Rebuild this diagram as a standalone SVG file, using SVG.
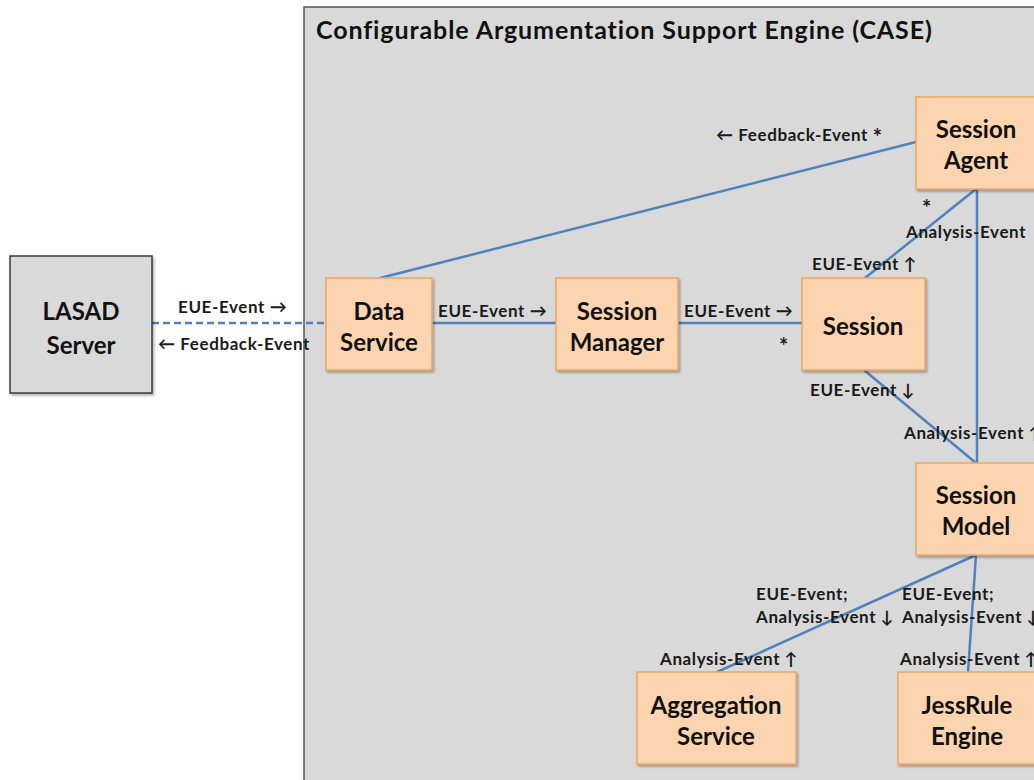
<svg xmlns="http://www.w3.org/2000/svg" width="1034" height="780" viewBox="0 0 1034 780">
<defs>
<filter id="sh" x="-10%" y="-10%" width="130%" height="130%">
<feDropShadow dx="1.5" dy="2" stdDeviation="1.2" flood-color="#000" flood-opacity="0.3"/>
</filter>
<style>
.node{fill:#fcd5b0;stroke:#f0a562;stroke-width:1.5;filter:url(#sh)}
.gray{fill:#d9d9d9;stroke:#3a3a3a;stroke-width:1.5;filter:url(#sh)}
.nt{font-family:Lato,"Liberation Sans",sans-serif;font-weight:bold;font-size:24px;fill:#111;text-anchor:middle}
.lb{font-family:Lato,"Liberation Sans",sans-serif;font-weight:bold;font-size:17px;letter-spacing:0.6px;fill:#1a1a1a}
.st{font-size:22px}
.ln{stroke:#4f81bd;stroke-width:2.5;fill:none}
</style>
</defs>
<rect width="1034" height="780" fill="#fff"/>
<g id="case">
<rect x="304" y="7" width="760" height="800" fill="#d9d9d9" stroke="#555" stroke-width="1.5"/>
<text x="316" y="39" font-family="Lato,'Liberation Sans',sans-serif" font-weight="bold" font-size="25" letter-spacing="0.9" fill="#111">Configurable Argumentation Support Engine (CASE)</text>
</g>
<g id="connectors">
<line class="ln" x1="152" y1="323" x2="326" y2="323" stroke-dasharray="7,4"/>
<line class="ln" x1="432" y1="323" x2="556" y2="323"/>
<line class="ln" x1="678" y1="323" x2="802" y2="323"/>
<line class="ln" x1="380" y1="278" x2="916" y2="142"/>
<line class="ln" x1="865" y1="278" x2="976" y2="189"/>
<line class="ln" x1="977" y1="189" x2="977" y2="463"/>
<line class="ln" x1="864" y1="370" x2="976" y2="463"/>
<line class="ln" x1="976" y1="555" x2="717" y2="672"/>
<line class="ln" x1="976" y1="555" x2="968" y2="672"/>
</g>
<g id="lasad">
<rect class="gray" x="10" y="256" width="142" height="137"/>
<text class="nt" x="81" y="320">LASAD</text>
<text class="nt" x="81" y="354">Server</text>
</g>
<g id="data-service">
<rect class="node" x="326" y="278" width="106" height="92"/>
<text class="nt" x="379" y="320">Data</text>
<text class="nt" x="379" y="351">Service</text>
</g>
<g id="session-manager">
<rect class="node" x="556" y="278" width="122" height="92"/>
<text class="nt" x="617" y="320">Session</text>
<text class="nt" x="617" y="351">Manager</text>
</g>
<g id="session">
<rect class="node" x="802" y="278" width="123" height="92"/>
<text class="nt" x="863" y="335">Session</text>
</g>
<g id="session-agent">
<rect class="node" x="916" y="97" width="130" height="92"/>
<text class="nt" x="976" y="138">Session</text>
<text class="nt" x="976" y="169">Agent</text>
</g>
<g id="session-model">
<rect class="node" x="916" y="463" width="130" height="92"/>
<text class="nt" x="976" y="504">Session</text>
<text class="nt" x="976" y="535">Model</text>
</g>
<g id="aggregation-service">
<rect class="node" x="637" y="672" width="159" height="92"/>
<text class="nt" x="716" y="714">Aggregation</text>
<text class="nt" x="716" y="745">Service</text>
</g>
<g id="jessrule-engine">
<rect class="node" x="898" y="672" width="150" height="92"/>
<text class="nt" x="967" y="714">JessRule</text>
<text class="nt" x="967" y="745">Engine</text>
</g>
<g id="labels">
<text class="lb" x="178" y="313">EUE-Event →</text>
<text class="lb" x="158" y="350">← Feedback-Event</text>
<text class="lb" x="438" y="317">EUE-Event →</text>
<text class="lb" x="684" y="317">EUE-Event →</text>
<text class="lb st" x="779" y="354">*</text>
<text class="lb" x="716" y="141">← Feedback-Event <tspan class="st" dy="4">*</tspan></text>
<text class="lb st" x="922" y="216">*</text>
<text class="lb" x="906" y="238">Analysis-Event</text>
<text class="lb" x="812" y="270">EUE-Event ↑</text>
<text class="lb" x="810" y="396">EUE-Event ↓</text>
<text class="lb" x="904" y="439">Analysis-Event ↑</text>
<text class="lb" x="756" y="600">EUE-Event;</text>
<text class="lb" x="756" y="623">Analysis-Event ↓</text>
<text class="lb" x="902" y="600">EUE-Event;</text>
<text class="lb" x="902" y="623">Analysis-Event ↓</text>
<text class="lb" x="660" y="665">Analysis-Event ↑</text>
<text class="lb" x="900" y="665">Analysis-Event ↑</text>
</g>
</svg>
